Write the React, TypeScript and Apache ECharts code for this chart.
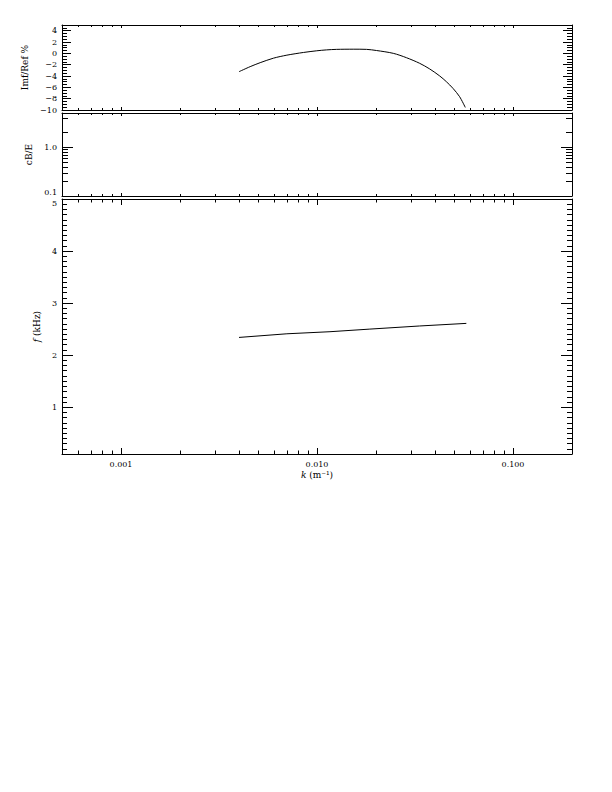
import React, { useEffect, useRef } from 'react';
import * as echarts from 'echarts';

// ---- data ----
const kImf = [0.0040, 0.00456, 0.00513, 0.0060, 0.00702, 0.00852, 0.00997, 0.0112, 0.0126, 0.0153, 0.0179, 0.0201, 0.0245, 0.0286, 0.0334, 0.0376, 0.0423, 0.0457, 0.0494, 0.0534, 0.0571];
const imfRef = [-3.24, -2.35, -1.65, -0.85, -0.32, 0.15, 0.45, 0.61, 0.70, 0.73, 0.70, 0.50, 0.0, -0.77, -1.76, -2.76, -4.0, -5.0, -6.18, -7.65, -9.55];
const kF = [0.0040, 0.00702, 0.01165, 0.0186, 0.0334, 0.0578];
const fKHz = [2.34, 2.41, 2.45, 2.50, 2.56, 2.61];

const xMajorLabels = [0.001, 0.01, 0.1];
const xMinorTicks = [0.0006, 0.0007, 0.0008, 0.0009, 0.002, 0.003, 0.004, 0.005, 0.006, 0.007, 0.008, 0.009, 0.02, 0.03, 0.04, 0.05, 0.06, 0.07, 0.08, 0.09];
const cbMinorTicks = [0.2, 0.3, 0.4, 0.5, 0.6, 0.7, 0.8, 0.9, 2, 4];

const K_MIN = 0.0005;
const K_MAX = 0.2;
const FONT = 'DejaVu Serif';
const TICK_FS = 8;
const NAME_FS = 9;
const BLACK = '#000';

const grids = [
  { left: 62, top: 25, width: 510, height: 85 },
  { left: 62, top: 113, width: 510, height: 83 },
  { left: 62, top: 199, width: 510, height: 255 },
];

const near = (a: number, b: number) => Math.abs(Math.log10(a) - Math.log10(b)) < 1e-6;

function xAxis(gi: number, position: string, tickLen: number, withLabels: boolean) {
  const ax: any = {
    type: 'log',
    logBase: 10,
    min: K_MIN,
    max: K_MAX,
    gridIndex: gi,
    position,
    axisLine: { show: true, onZero: false, lineStyle: { color: BLACK, width: 1 } },
    axisTick: { show: true, inside: true, length: tickLen, lineStyle: { color: BLACK, width: 1 } },
    axisLabel: { show: false },
    splitLine: { show: false },
    minorTick: { show: false },
  };
  if (withLabels) {
    ax.axisLabel = {
      show: true,
      fontFamily: FONT,
      fontSize: TICK_FS,
      color: BLACK,
      margin: 6,
      formatter: (v: number) => {
        const m = xMajorLabels.find((t) => near(v, t));
        return m !== undefined ? m.toFixed(3) : '';
      },
    };
    ax.name = '{i|k} (m⁻¹)';
    ax.nameLocation = 'middle';
    ax.nameGap = 16;
    ax.nameTextStyle = {
      fontFamily: FONT,
      fontSize: NAME_FS,
      color: BLACK,
      rich: { i: { fontFamily: FONT, fontSize: NAME_FS, fontStyle: 'italic', color: BLACK } },
    };
  }
  return ax;
}

const yLabelBase = { fontFamily: FONT, fontSize: TICK_FS, color: BLACK, margin: 5 };
const nameStyle = {
  fontFamily: FONT,
  fontSize: NAME_FS,
  color: BLACK,
  rich: { i: { fontFamily: FONT, fontSize: NAME_FS, fontStyle: 'italic', color: BLACK } },
};

function xMinorSeries(xAxisIndex: number, yAxisIndex: number, yRef: number, len: number) {
  return {
    type: 'custom',
    xAxisIndex,
    yAxisIndex,
    silent: true,
    clip: false,
    data: xMinorTicks.map((v) => [v, yRef]),
    encode: { x: 0, y: 1 },
    renderItem: (params: any, api: any) => {
      const cs = params.coordSys;
      const x = Math.round(api.coord([api.value(0), api.value(1)])[0]) + 0.5;
      const yb = cs.y + cs.height;
      return {
        type: 'group',
        children: [
          { type: 'line', shape: { x1: x, y1: yb, x2: x, y2: yb - len }, style: { stroke: BLACK, lineWidth: 1 } },
          { type: 'line', shape: { x1: x, y1: cs.y, x2: x, y2: cs.y + len }, style: { stroke: BLACK, lineWidth: 1 } },
        ],
      };
    },
  };
}

function yMinorSeries(xAxisIndex: number, yAxisIndex: number, xRef: number, len: number) {
  return {
    type: 'custom',
    xAxisIndex,
    yAxisIndex,
    silent: true,
    clip: false,
    data: cbMinorTicks.map((v) => [xRef, v]),
    encode: { x: 0, y: 1 },
    renderItem: (params: any, api: any) => {
      const cs = params.coordSys;
      const y = Math.round(api.coord([api.value(0), api.value(1)])[1]) + 0.5;
      const xr = cs.x + cs.width;
      return {
        type: 'group',
        children: [
          { type: 'line', shape: { x1: cs.x, y1: y, x2: cs.x + len, y2: y }, style: { stroke: BLACK, lineWidth: 1 } },
          { type: 'line', shape: { x1: xr, y1: y, x2: xr - len, y2: y }, style: { stroke: BLACK, lineWidth: 1 } },
        ],
      };
    },
  };
}

function buildOption() {
  const axisLine = { show: true, onZero: false, lineStyle: { color: BLACK, width: 1 } };
  const tick = (len: number) => ({ show: true, inside: true, length: len, lineStyle: { color: BLACK, width: 1 } });

  const imfY = (position: string, labels: boolean) => ({
    type: 'value',
    gridIndex: 0,
    position,
    min: -10,
    max: 5,
    interval: 2,
    axisLine,
    axisTick: tick(9),
    minorTick: { show: true, splitNumber: 4, length: 5, lineStyle: { color: BLACK, width: 1 } },
    splitLine: { show: false },
    axisLabel: labels
      ? {
          ...yLabelBase,
          hideOverlap: false,
          showMinLabel: true,
          formatter: (v: number) => (v === 5 ? '' : String(v).replace('-', '−')),
        }
      : { show: false },
    ...(labels ? { name: 'Imf/Ref %', nameLocation: 'middle', nameGap: 29, nameTextStyle: nameStyle } : {}),
  });

  const cbY = (position: string, labels: boolean) => ({
    type: 'log',
    logBase: 10,
    gridIndex: 1,
    position,
    min: 0.1,
    max: 5,
    axisLine,
    axisTick: tick(11),
    splitLine: { show: false },
    axisLabel: labels
      ? {
          ...yLabelBase,
          verticalAlignMinLabel: 'bottom',
          formatter: (v: number) => (near(v, 1) ? '1.0' : near(v, 0.1) ? '0.1' : ''),
        }
      : { show: false },
    ...(labels ? { name: 'cB/E', nameLocation: 'middle', nameGap: 29, nameTextStyle: nameStyle } : {}),
  });

  const fY = (position: string, labels: boolean) => ({
    type: 'value',
    gridIndex: 2,
    position,
    min: 0.1,
    max: 5,
    splitNumber: 5,
    axisLine,
    axisTick: tick(11),
    minorTick: { show: true, splitNumber: 10, length: 5, lineStyle: { color: BLACK, width: 1 } },
    splitLine: { show: false },
    axisLabel: labels
      ? {
          ...yLabelBase,
          verticalAlignMaxLabel: 'top',
          formatter: (v: number) => (v < 0.5 ? '' : String(Math.round(v))),
        }
      : { show: false },
    ...(labels ? { name: '{i|f} (kHz)', nameLocation: 'middle', nameGap: 14, nameTextStyle: nameStyle } : {}),
  });

  return {
    animation: false,
    backgroundColor: '#fff',
    grid: grids.map((g) => ({ ...g, containLabel: false, outerBoundsMode: 'none' })),
    xAxis: [
      xAxis(0, 'bottom', 3, false),
      xAxis(0, 'top', 3, false),
      xAxis(1, 'bottom', 3, false),
      xAxis(1, 'top', 3, false),
      xAxis(2, 'bottom', 6, true),
      xAxis(2, 'top', 6, false),
    ],
    yAxis: [imfY('left', true), imfY('right', false), cbY('left', true), cbY('right', false), fY('left', true), fY('right', false)],
    series: [
      {
        type: 'line',
        xAxisIndex: 0,
        yAxisIndex: 0,
        data: kImf.map((k, i) => [k, imfRef[i]]),
        symbol: 'none',
        smooth: 0.3,
        lineStyle: { color: BLACK, width: 1 },
        silent: true,
      },
      {
        type: 'line',
        xAxisIndex: 4,
        yAxisIndex: 4,
        data: kF.map((k, i) => [k, fKHz[i]]),
        symbol: 'none',
        lineStyle: { color: BLACK, width: 1 },
        silent: true,
      },
      xMinorSeries(0, 0, 0, 2),
      xMinorSeries(2, 2, 1, 2),
      xMinorSeries(4, 4, 1, 3.5),
      yMinorSeries(2, 2, 0.001, 6),
    ],
  };
}

export default function App() {
  const ref = useRef<HTMLDivElement>(null);
  useEffect(() => {
    if (!ref.current) return;
    const chart = echarts.init(ref.current, undefined, { renderer: 'svg' });
    chart.setOption(buildOption() as any);
    return () => chart.dispose();
  }, []);
  return (
    <div
      ref={ref}
      style={{ position: 'absolute', left: 0, top: 0, width: 612, height: 792, background: '#fff' }}
    />
  );
}
